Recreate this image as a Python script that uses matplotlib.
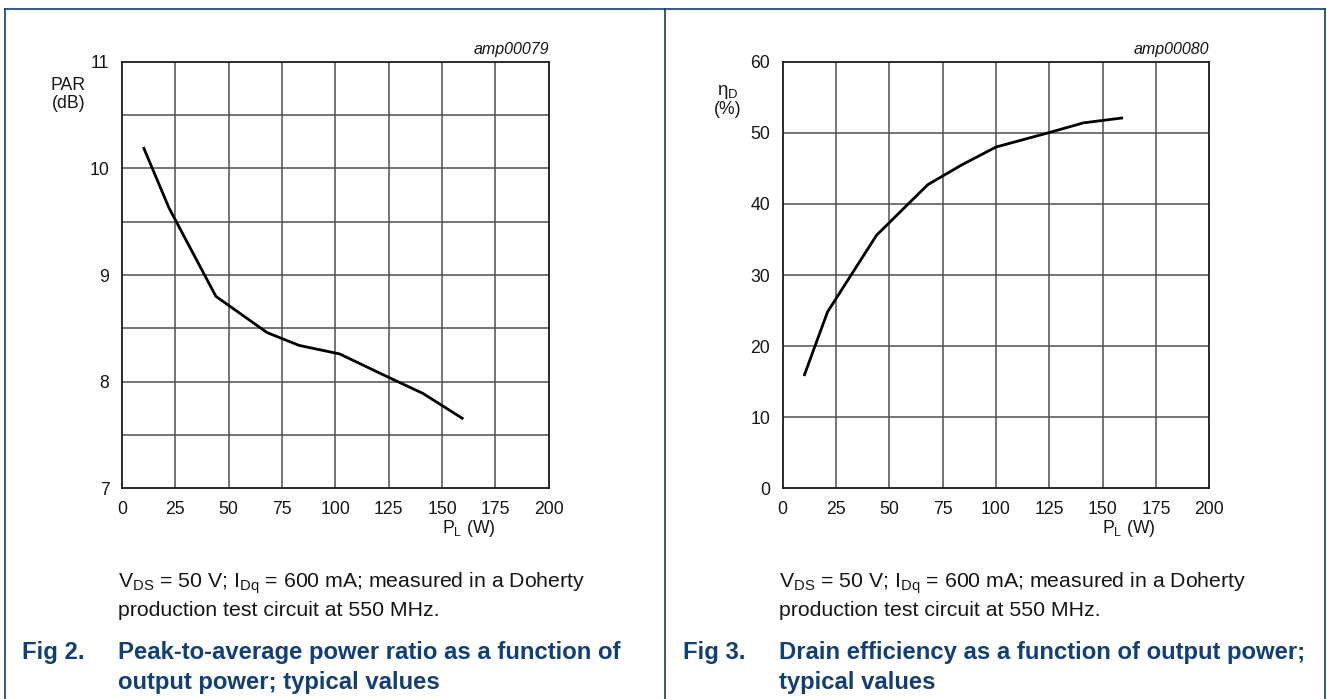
import numpy as np
import matplotlib
matplotlib.use("Agg")
import matplotlib.pyplot as plt
from matplotlib.lines import Line2D

plt.rcParams['font.family'] = ['Liberation Sans', 'DejaVu Sans']
plt.rcParams['mathtext.fontset'] = 'custom'
plt.rcParams['mathtext.rm'] = 'Liberation Sans'
plt.rcParams['mathtext.it'] = 'Liberation Sans:italic'

# donnees
pl_par = [10, 22, 44, 68, 83, 102, 125, 141, 160]
par_db = [10.2, 9.63, 8.80, 8.46, 8.34, 8.26, 8.04, 7.89, 7.65]

pl_eff = [10, 21, 44, 68, 84, 100, 124.5, 141, 159.5]
eff_pct = [15.8, 24.8, 35.6, 42.7, 45.5, 48.0, 50.0, 51.4, 52.1]

x_ticks = [0, 25, 50, 75, 100, 125, 150, 175, 200]
par_ticks = [7, 8, 9, 10, 11]
par_grid = [7.5, 8.5, 9.5, 10.5]
eff_ticks = [0, 10, 20, 30, 40, 50, 60]

fig_codes = ["amp00079", "amp00080"]
cond_line1 = "V$_\\mathregular{DS}$ = 50 V; I$_\\mathregular{Dq}$ = 600 mA; measured in a Doherty"
cond_line2 = "production test circuit at 550 MHz."
fig_nums = ["Fig 2.", "Fig 3."]
titles = [["Peak-to-average power ratio as a function of", "output power; typical values"],
          ["Drain efficiency as a function of output power;", "typical values"]]

W, H = 1327, 699
fig = plt.figure(figsize=(W / 100, H / 100), dpi=100)

navy = '#0f3c6e'
title_blue = '#123f74'
grid_col = '#505050'
txt_col = '#161616'


def fx(px):
    return px / W


def fy(py):
    return 1 - py / H


# cadre
for seg in [((5, 5), (8.5, H)), ((665, 665), (8.5, H)), ((1325, 1325), (8.5, H)), ((5, 1325), (8.5, 8.5))]:
    fig.add_artist(Line2D([fx(seg[0][0]), fx(seg[0][1])], [fy(seg[1][0]), fy(seg[1][1])],
                          color=navy, lw=1.2, transform=fig.transFigure))


def make_axes(x0, ylim, yticks, ygrid, xs, ys, code):
    ax = fig.add_axes([fx(x0), fy(488.3), fx(426.7), 426.6 / H])
    ax.plot(xs, ys, color='black', lw=2.0, solid_capstyle='butt', zorder=3)
    ax.set_xlim(0, 200)
    ax.set_ylim(*ylim)
    ax.set_xticks(x_ticks)
    ax.set_yticks(yticks)
    for v in x_ticks[1:-1]:
        ax.axvline(v, color=grid_col, lw=1.1, zorder=1)
    for v in list(yticks[1:-1]) + list(ygrid):
        ax.axhline(v, color=grid_col, lw=1.1, zorder=1)
    ax.tick_params(length=0, labelsize=12.7, colors=txt_col, pad=9)
    ax.tick_params(axis='x', pad=9)
    for s in ax.spines.values():
        s.set_linewidth(1.3)
        s.set_color('#1a1a1a')
    ax.text(1.0, 1.012, code, transform=ax.transAxes, ha='right', va='bottom',
            fontsize=11.5, style='italic', color=txt_col)
    ax.text(175, -0.094, "P$_\\mathregular{L}$ (W)", transform=ax.get_xaxis_transform(),
            ha='right', va='center', fontsize=12.7, color=txt_col)
    return ax


ax1 = make_axes(122, (7, 11), par_ticks, par_grid, pl_par, par_db, fig_codes[0])
ax2 = make_axes(782.7, (0, 60), eff_ticks, [], pl_eff, eff_pct, fig_codes[1])

# titres des axes y
fig.text(fx(68.5), fy(86), "PAR", ha='center', va='center', fontsize=12.7, color=txt_col)
fig.text(fx(68.5), fy(103), "(dB)", ha='center', va='center', fontsize=12.7, color=txt_col)
fig.text(fx(728), fy(92), "\u03b7$_\\mathregular{D}$", ha='center', va='center', fontsize=13.5, color=txt_col)
fig.text(fx(728), fy(110), "(%)", ha='center', va='center', fontsize=12.7, color=txt_col)

# legendes
for i, dx in enumerate([0, 661]):
    fig.text(fx(118 + dx), fy(583), cond_line1, ha='left', va='center', fontsize=15.3, color=txt_col)
    fig.text(fx(118 + dx), fy(611), cond_line2, ha='left', va='center', fontsize=15.3, color=txt_col)
    fig.text(fx(22 + dx), fy(652), fig_nums[i], ha='left', va='center', fontsize=17.2,
             fontweight='bold', color=title_blue)
    fig.text(fx(118 + dx), fy(652), titles[i][0], ha='left', va='center', fontsize=17.2,
             fontweight='bold', color=title_blue)
    fig.text(fx(118 + dx), fy(682), titles[i][1], ha='left', va='center', fontsize=17.2,
             fontweight='bold', color=title_blue)

fig.savefig("out.png", dpi=100)
